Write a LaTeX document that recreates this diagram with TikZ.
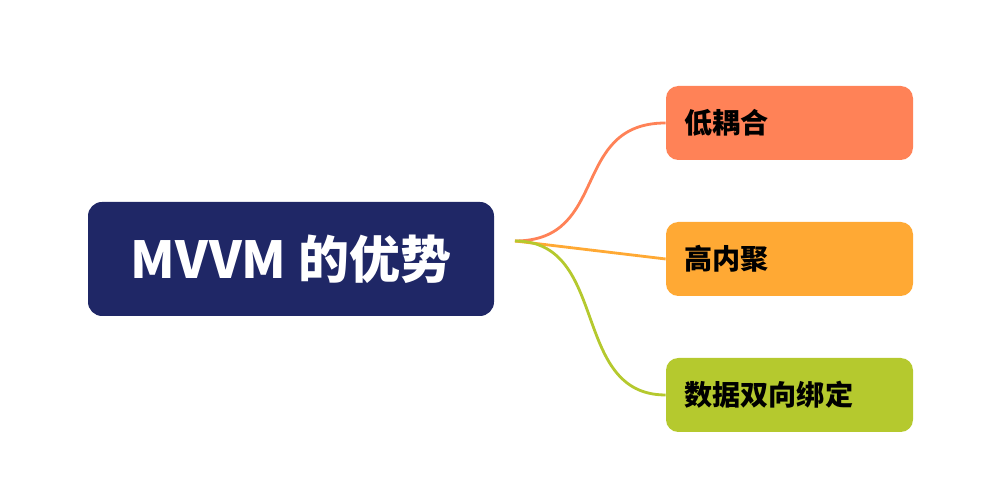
\documentclass[tikz,border=0pt]{standalone}
\usepackage{fontspec}
\newfontfamily\cjk{Noto Sans CJK SC}
\usetikzlibrary{positioning}
\definecolor{navy}{HTML}{1F2766}
\definecolor{coral}{HTML}{FF8257}
\definecolor{amber}{HTML}{FFA934}
\definecolor{lime}{HTML}{B5C92E}
\tikzset{
  topic/.style={fill=navy,rounded corners=8pt,minimum width=8.12cm,minimum height=2.28cm,
    text=white,font=\cjk\bfseries\fontsize{29}{34}\selectfont},
  leaf/.style={rounded corners=7pt,minimum width=4.94cm,minimum height=1.48cm,
    text=black,align=left,text width=4.2cm,font=\cjk\bfseries\fontsize{16}{19}\selectfont},
  branch/.style={line width=1.6pt}
}
\begin{document}
\begin{tikzpicture}
  \useasboundingbox (0,0) rectangle (20,10);
  \node[topic] (root) at (5.82,4.82) {MVVM 的优势};
  \coordinate (hub) at (10.3,5.18);
  \node[leaf,fill=coral] (low) at (15.79,7.54) {低耦合};
  \node[leaf,fill=amber] (high) at (15.79,4.82) {高内聚};
  \node[leaf,fill=lime] (bind) at (15.79,2.10) {数据双向绑定};
  % branches
  \draw[branch,coral] (hub) .. controls (12.2,5.18) and (11.4,7.54) .. (low.west);
  \draw[branch,amber] (hub) -- (high.west);
  \draw[branch,lime] (hub) .. controls (12.2,5.18) and (11.4,2.10) .. (bind.west);
\end{tikzpicture}
\end{document}
